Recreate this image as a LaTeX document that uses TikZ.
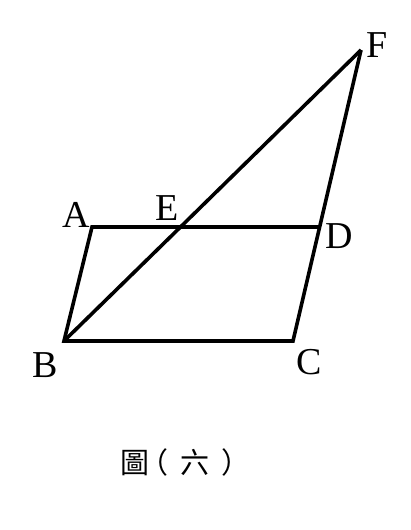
\documentclass[tikz,border=0pt]{standalone}
\usepackage{fontspec}
\setmainfont{Liberation Serif}
\newfontfamily\cjkfont{Noto Sans CJK TC}
\begin{document}
\begin{tikzpicture}[x=1pt,y=-1pt,
  edge/.style={line width=3.6pt,line join=miter,line cap=butt},
  lbl/.style={font=\fontsize{38}{38}\selectfont,anchor=base,inner sep=0pt}]
\useasboundingbox (0,0) rectangle (410,530);
\coordinate (A) at (92,227);
\coordinate (B) at (64,341);
\coordinate (C) at (293,341);
\coordinate (D) at (320,227);
\coordinate (F) at (361,50);
\coordinate (E) at (180.5,227);
\draw[edge] (F) -- (C) -- (B) -- (A) -- (D);
\draw[edge] (B) -- (E) -- (F);
\node[lbl] (lA) at (76,227) {A};
\node[lbl] (lE) at (167,220) {E};
\node[lbl] (lD) at (339,248) {D};
\node[lbl] (lF) at (377,57) {F};
\node[lbl] (lB) at (45,377) {B};
\node[lbl] (lC) at (309,374) {C};
\node[font=\cjkfont\fontsize{29}{29}\selectfont,inner sep=0pt,anchor=west] (cap) at (120.5,462) {圖\kern-10pt（\kern11.5pt六\kern12.5pt）};
\end{tikzpicture}
\end{document}
